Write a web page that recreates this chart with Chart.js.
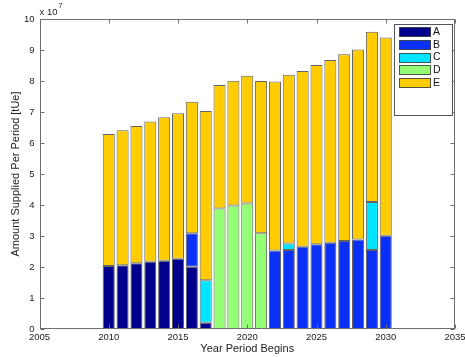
<!DOCTYPE html>
<html>
<head>
<meta charset="utf-8">
<script src="https://cdn.jsdelivr.net/npm/chart.js@4.4.1/dist/chart.umd.min.js"></script>
<style>
  html, body { margin: 0; padding: 0; background: #fff; }
  canvas { display: block; }
</style>
</head>
<body>
<canvas id="c" width="465" height="357"></canvas>
<script>
// Amount supplied per period, in units of 10^7 tUe, stacked by source
const years   = [2010, 2011, 2012, 2013, 2014, 2015, 2016, 2017, 2018, 2019, 2020,
                 2021, 2022, 2023, 2024, 2025, 2026, 2027, 2028, 2029, 2030];
const supplyA = [2.03, 2.06, 2.12, 2.17, 2.20, 2.27, 2.01, 0.20, null, null, null,
                 null, null, null, null, null, null, null, null, null, null];
const supplyB = [null, null, null, null, null, null, 1.08, null, null, null, null,
                 null, 2.53, 2.55, 2.65, 2.73, 2.78, 2.84, 2.89, 2.55, 3.01];
const supplyC = [null, null, null, null, null, null, null, 1.37, null, null, null,
                 null, null, 0.21, null, null, null, null, null, 1.55, null];
const supplyD = [null, null, null, null, null, null, null, null, 3.89, 3.98, 4.05,
                 3.09, null, null, null, null, null, null, null, null, null];
const supplyE = [4.26, 4.35, 4.43, 4.52, 4.63, 4.69, 4.24, 5.46, 3.98, 4.03, 4.12,
                 4.91, 5.45, 5.44, 5.67, 5.79, 5.90, 6.02, 6.13, 5.49, 6.39];

const seriesNames = ['A', 'B', 'C', 'D', 'E'];
const yTicks = [0, 1, 2, 3, 4, 5, 6, 7, 8, 9, 10];
const xTicks = [2005, 2010, 2015, 2020, 2025, 2030, 2035];

const colors = ['#00008c', '#0a30f5', '#00e4ff', '#94ff74', '#ffcc00'];
const FONT = 'Liberation Sans, Arial, Helvetica, sans-serif';

function toPoints(values) {
  return years.map((yr, i) => ({ x: yr, y: values[i] })).filter(p => p.y !== null);
}

const allSeries = [supplyA, supplyB, supplyC, supplyD, supplyE];
const datasets = allSeries.map((vals, k) => ({
  label: seriesNames[k],
  data: toPoints(vals),
  backgroundColor: colors[k],
  borderColor: 'rgba(45,45,45,0.75)',
  borderWidth: 1,
  borderSkipped: false,
  barPercentage: 0.87,
  categoryPercentage: 1.0
}));

// Box frame, inward ticks on all four sides, exponent note and legend
const framePlugin = {
  id: 'frame',
  afterDraw(chart) {
    const ctx = chart.ctx;
    const a = chart.chartArea;
    const xs = chart.scales.x, ys = chart.scales.y;
    const L = Math.round(a.left) + 0.5, R = Math.round(a.right) - 0.5;
    const T = Math.round(a.top) + 0.5, B = Math.round(a.bottom) - 0.5;
    ctx.save();
    ctx.strokeStyle = '#6e6e6e';
    ctx.lineWidth = 1;
    ctx.strokeRect(L, T, R - L, B - T);
    const tl = 4;
    ctx.beginPath();
    xTicks.forEach(v => {
      const px = Math.round(xs.getPixelForValue(v)) + 0.5;
      ctx.moveTo(px, B); ctx.lineTo(px, B - tl);
      ctx.moveTo(px, T); ctx.lineTo(px, T + tl);
    });
    yTicks.forEach(v => {
      const py = Math.round(ys.getPixelForValue(v)) + 0.5;
      ctx.moveTo(L, py); ctx.lineTo(L + tl, py);
      ctx.moveTo(R, py); ctx.lineTo(R - tl, py);
    });
    ctx.stroke();

    // axis multiplier
    ctx.fillStyle = '#222';
    ctx.textBaseline = 'alphabetic';
    ctx.textAlign = 'left';
    ctx.font = '9.5px ' + FONT;
    ctx.fillText('x 10', a.left, 15);
    const w = ctx.measureText('x 10').width;
    ctx.font = '7px ' + FONT;
    ctx.fillText('7', a.left + w + 1, 8);

    // legend box
    const bx = 394.5, by = 24.5, bw = 58, bh = 91;
    ctx.fillStyle = '#fff';
    ctx.fillRect(bx, by, bw, bh);
    ctx.strokeStyle = '#555';
    ctx.strokeRect(bx, by, bw, bh);
    ctx.font = '10.5px ' + FONT;
    ctx.textBaseline = 'middle';
    chart.data.datasets.forEach((ds, i) => {
      const cy = 31.5 + i * 12.75;
      ctx.fillStyle = ds.backgroundColor;
      ctx.fillRect(399.5, Math.round(cy - 4.5) + 0.5, 31, 9);
      ctx.strokeStyle = 'rgba(45,45,45,0.8)';
      ctx.strokeRect(399.5, Math.round(cy - 4.5) + 0.5, 31, 9);
      ctx.fillStyle = '#111';
      ctx.fillText(ds.label, 433, cy + 0.5);
    });
    ctx.restore();
  }
};

new Chart(document.getElementById('c'), {
  type: 'bar',
  data: { datasets },
  options: {
    responsive: false,
    animation: false,
    devicePixelRatio: 1,
    layout: { padding: { left: 0, right: 10, top: 19, bottom: 0 } },
    plugins: {
      legend: { display: false },
      tooltip: { enabled: false }
    },
    scales: {
      x: {
        type: 'linear',
        stacked: true,
        offset: false,
        min: 2005,
        max: 2035,
        afterBuildTicks(scale) { scale.ticks = xTicks.map(v => ({ value: v })); },
        afterFit(scale) { scale.height = 28; scale.paddingLeft = 0; scale.paddingRight = 0; },
        grid: { display: false, drawTicks: false, offset: false },
        border: { display: false },
        ticks: {
          padding: 3,
          color: '#222',
          maxRotation: 0,
          autoSkip: false,
          font: { family: FONT, size: 9.5 },
          callback: v => String(v)
        },
        title: {
          display: true,
          text: 'Year Period Begins',
          color: '#222',
          font: { family: FONT, size: 11 },
          padding: { top: 0, bottom: 1 }
        }
      },
      y: {
        stacked: true,
        min: 0,
        max: 10,
        afterBuildTicks(scale) { scale.ticks = yTicks.map(v => ({ value: v })); },
        afterFit(scale) { scale.width = 39.5; },
        grid: { display: false, drawTicks: false },
        border: { display: false },
        ticks: {
          padding: 5,
          color: '#222',
          font: { family: FONT, size: 9.5 },
          callback: v => String(v)
        },
        title: {
          display: true,
          text: 'Amount Supplied Per Period [tUe]',
          color: '#222',
          font: { family: FONT, size: 11 },
          padding: { top: 9, bottom: 0 }
        }
      }
    }
  },
  plugins: [framePlugin]
});
</script>
</body>
</html>
